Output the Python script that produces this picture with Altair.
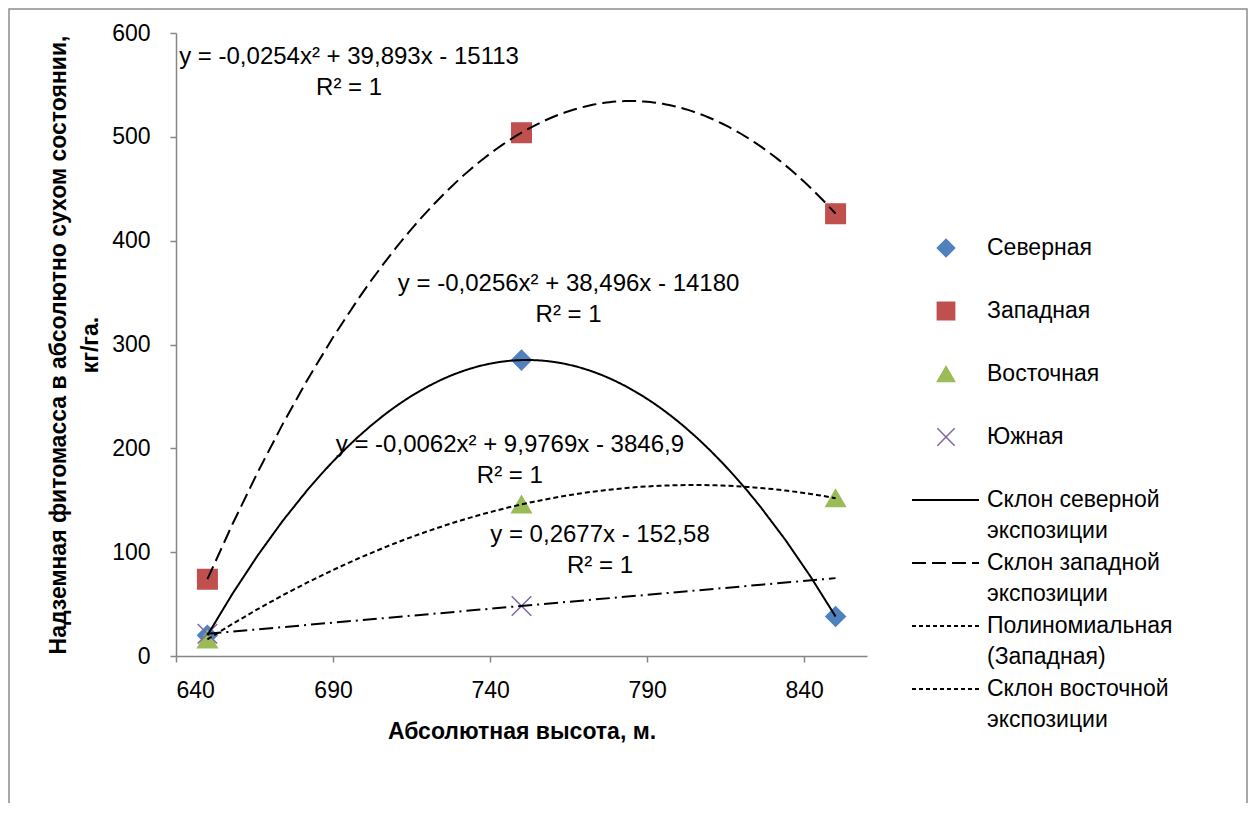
import altair as alt
import pandas as pd

# ---------------- data ----------------
altitude = [650, 750, 850]
north = [20, 285, 38]
west = [74, 504, 426]
east = [16, 146, 152]
south_altitude = [650, 750]
south = [21.4, 48.2]

series_names = ["Северная", "Западная", "Восточная", "Южная"]
series_colors = ["#4F81BD", "#C0504D", "#9BBB59", "#8064A2"]
series_shapes = ["diamond", "square", "triangle-up", "M-1,-1L1,1M-1,1L1,-1"]

poly_series = ["Северная", "Западная", "Восточная"]
poly_dashes = [[1, 0], [14, 6], [5, 3]]
south_dash = [14, 5, 2, 5]
trend_extent = [650, 850]

trend_legend = ["Склон северной\nэкспозиции", "Склон западной\nэкспозиции",
                "Полиномиальная\n(Западная)", "Склон восточной\nэкспозиции"]
trend_legend_dashes = [[1, 0], [14, 6], [4, 3], [4, 3]]

equations = [
    "y = -0,0254x² + 39,893x - 15113\nR² = 1",
    "y = -0,0256x² + 38,496x - 14180\nR² = 1",
    "y = -0,0062x² + 9,9769x - 3846,9\nR² = 1",
    "y = 0,2677x - 152,58\nR² = 1",
]
equation_x = [695.1, 765.0, 746.3, 775.0]
equation_y = [576.9, 358.3, 203.2, 116.5]

x_ticks = [640, 690, 740, 790, 840]
y_ticks = [0, 100, 200, 300, 400, 500, 600]

FONT = "Liberation Sans"
FS = 23

# ---------------- tables ----------------
rows = []
for name, vals in zip(series_names[:3], [north, west, east]):
    for a, v in zip(altitude, vals):
        rows.append({"altitude": a, "value": v, "series": name})
for a, v in zip(south_altitude, south):
    rows.append({"altitude": a, "value": v, "series": "Южная"})
points_df = pd.DataFrame(rows)

eq_df = pd.DataFrame({"altitude": equation_x, "value": equation_y, "text": equations})

leg_rows = []
for i, n in enumerate(series_names):
    leg_rows.append({"row": i, "line1": n, "line2": "", "key": n, "kind": "symbol"})
for j, lab in enumerate(trend_legend):
    l1, l2 = lab.split("\n")
    leg_rows.append({"row": 4 + j, "line1": l1, "line2": l2, "key": lab, "kind": "line"})
legend_df = pd.DataFrame(leg_rows)

# ---------------- scales ----------------
xs = alt.Scale(domain=[640, 860], nice=False, zero=False)
ys = alt.Scale(domain=[0, 600], nice=False)
fill_scale = alt.Scale(domain=series_names, range=series_colors)
shape_scale = alt.Scale(domain=series_names, range=series_shapes)

X = alt.X("altitude:Q", scale=xs, axis=alt.Axis(
    values=x_ticks, format="d", title="Абсолютная высота, м.",
    labelPadding=17, titlePadding=18))
Y = alt.Y("value:Q", scale=ys, axis=alt.Axis(
    values=y_ticks, format="d",
    title=["Надземная фитомасса в абсолютно сухом состоянии,", "кг/га."],
    labelPadding=20, titlePadding=9, titleLineHeight=32))

border = alt.Chart(pd.DataFrame({"a": [0]})).mark_rect(
    filled=False, color="#8c8c8c", strokeWidth=1.5
).encode(x=alt.value(-167), x2=alt.value(1071), y=alt.value(-24), y2=alt.value(800))

pts = alt.Chart(points_df).mark_point(filled=True, opacity=1, size=380, strokeWidth=1.5).encode(
    x=X, y=Y,
    fill=alt.Fill("series:N", scale=fill_scale, legend=None),
    stroke=alt.Stroke("series:N", scale=fill_scale, legend=None),
    shape=alt.Shape("series:N", scale=shape_scale, legend=None),
)

poly = alt.Chart(points_df).transform_filter(
    alt.FieldOneOfPredicate(field="series", oneOf=poly_series)
).transform_regression(
    "altitude", "value", groupby=["series"], method="poly", order=2
).mark_line(color="black", strokeWidth=2).encode(
    x=X, y=Y, detail="series:N",
    strokeDash=alt.StrokeDash("series:N", scale=alt.Scale(domain=poly_series, range=poly_dashes), legend=None),
)

lin = alt.Chart(points_df).transform_filter(
    alt.FieldEqualPredicate(field="series", equal="Южная")
).transform_regression(
    "altitude", "value", method="linear", extent=trend_extent
).mark_line(color="black", strokeWidth=2, strokeDash=south_dash).encode(x=X, y=Y)

eqs = alt.Chart(eq_df).mark_text(
    font=FONT, fontSize=24, color="black", align="center", baseline="middle",
    lineBreak="\n", lineHeight=31
).encode(x=X, y=Y, text="text:N")

main = alt.layer(border, eqs, pts, poly, lin)

# ---------------- legend ----------------
LY = alt.Y("row:O", scale=alt.Scale(type="point", domain=list(range(8)), range=[215, 656], padding=0), axis=None)

leg_sym = alt.Chart(legend_df).transform_filter(alt.datum.kind == "symbol").mark_point(
    filled=True, opacity=1, size=300, strokeWidth=1.5
).encode(
    x=alt.value(770), y=LY,
    fill=alt.Fill("key:N", scale=fill_scale, legend=None),
    stroke=alt.Stroke("key:N", scale=fill_scale, legend=None),
    shape=alt.Shape("key:N", scale=shape_scale, legend=None),
)
leg_line = alt.Chart(legend_df).transform_filter(alt.datum.kind == "line").mark_rule(
    color="black", strokeWidth=2
).encode(
    x=alt.value(736), x2=alt.value(803), y=LY,
    strokeDash=alt.StrokeDash("key:N", scale=alt.Scale(domain=trend_legend, range=trend_legend_dashes), legend=None),
)
leg_t1 = alt.Chart(legend_df).mark_text(
    font=FONT, fontSize=FS, color="black", align="left", baseline="middle"
).encode(x=alt.value(811), y=LY, text="line1:N")
leg_t2 = alt.Chart(legend_df).transform_filter(alt.datum.line2 != "").mark_text(
    font=FONT, fontSize=FS, color="black", align="left", baseline="middle", dy=31
).encode(x=alt.value(811), y=LY, text="line2:N")

legend = alt.layer(leg_sym, leg_line, leg_t1, leg_t2)

chart = alt.layer(main, legend).resolve_scale(
    y="independent", fill="independent", stroke="independent",
    shape="independent", strokeDash="independent"
).properties(
    width=691, height=623,
    autosize=alt.AutoSizeParams(type="none"),
    padding={"left": 168, "top": 25, "right": 381, "bottom": 147},
).configure_view(stroke=None).configure_axis(
    grid=False, labelFont=FONT, titleFont=FONT, labelFontSize=FS, titleFontSize=FS,
    titleFontWeight="bold", labelColor="black", titleColor="black",
    domainColor="#868686", tickColor="#868686", domainWidth=1.5, tickWidth=1.5, tickSize=6,
)

chart.save("out.html", embed_options={"renderer": "svg", "actions": False})
